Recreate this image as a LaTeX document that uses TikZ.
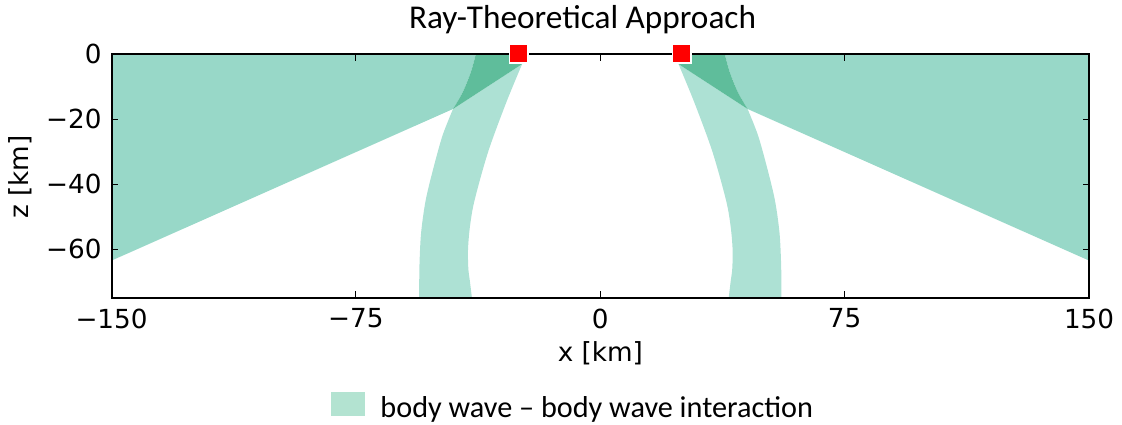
\documentclass[tikz,border=0pt]{standalone}
\usepackage{fontspec}
\setmainfont{Carlito}
\newfontfamily\axisfont{DejaVu Sans}
\usetikzlibrary{positioning}
\definecolor{wedgegreen}{HTML}{98D8C8}
\definecolor{bandgreen}{HTML}{ADE1D4}
\definecolor{overlapgreen}{HTML}{5FBD9B}
\definecolor{legendgreen}{HTML}{B3E3D1}
\tikzset{
  station/.style={rectangle,fill=red,draw=white,line width=0.64pt,
    minimum size=2.775mm,inner sep=0pt},
  ticklabel/.style={inner sep=0pt,font=\axisfont\fontsize{11.2}{13}\selectfont},
  axislabel/.style={inner sep=0pt,font=\axisfont\fontsize{11.2}{13}\selectfont},
  tickmark/.style={line width=0.45pt},
  axisframe/.style={line width=0.85pt}
}

\begin{document}
\begin{tikzpicture}[x=0.015cm,y=-0.015cm]
\useasboundingbox (0,0) rectangle (1122,425);
\node[anchor=base,inner sep=0pt,font=\fontsize{14.2}{17}\selectfont] (title) at (582.5,29) {Ray-Theoretical Approach};
\begin{scope}[shift={(600.3,54)},x=0.04887cm,y=0.0488cm]
% wave regions of the left station, then mirrored for the right one
\foreach \s in {1,-1}{
  \begin{scope}[xscale=\s]
  \fill[wedgegreen] (-150,0) -- plot[smooth] coordinates {(-38.2,0) (-39.7,-5.5) (-42.2,-11.7) (-45.2,-16.9)} -- (-150,-63.5) -- cycle;
  \fill[bandgreen] (-24,-3.1) -- plot[smooth] coordinates {(-45.2,-16.9) (-48.4,-25) (-51.2,-35) (-53.6,-45) (-55.0,-55) (-55.5,-65) (-55.6,-75)}
    -- plot[smooth] coordinates {(-39.4,-75) (-40.0,-70) (-40.5,-66) (-40.6,-60) (-40.0,-53) (-38.6,-45) (-34.4,-30) (-28.9,-15) (-24,-3.1)} -- cycle;
  \fill[overlapgreen] (-38.2,0) -- (-24,0) -- (-24,-3.1) -- plot[smooth] coordinates {(-45.2,-16.9) (-42.2,-11.7) (-39.7,-5.5) (-38.2,0)} -- cycle;
  \end{scope}
}
% ticks
\foreach \x in {-150,-75,0,75,150}
  \draw[tickmark] (\x,0) -- (\x,-2) (\x,-75) -- (\x,-73);
\foreach \z in {0,-20,-40,-60}
  \draw[tickmark] (-150,\z) -- (-148,\z) (150,\z) -- (148,\z);
\draw[axisframe] (-150,0) rectangle (150,-75);
\foreach \x/\t [count=\i] in {-150/−150,-75/−75,0/0,75/75,150/150}
  \node[ticklabel,anchor=north] (xt\i) at (\x,-78.1) {\t};
\foreach \z/\t [count=\i] in {0/0,-20/−20,-40/−40,-60/−60}
  \node[ticklabel,anchor=east] (zt\i) at (-152.9,\z) {\t};
\node[axislabel] (xlabel) at (0,-91.9) {x [km]};
\node[axislabel,rotate=90] (zlabel) at (-178,-37.8) {z [km]};
% stations
\node[station] (sta1) at (-25,0) {};
\node[station] (sta2) at (25,0) {};
\end{scope}
% legend
\node[fill=legendgreen,minimum width=0.51cm,minimum height=0.36cm,inner sep=0pt] (legpatch) at (348,404) {};
\node[anchor=base west,inner sep=0pt,font=\fontsize{12.9}{15}\selectfont] (legtext) at (380,417) {body wave – body wave interaction};
\end{tikzpicture}
\end{document}
